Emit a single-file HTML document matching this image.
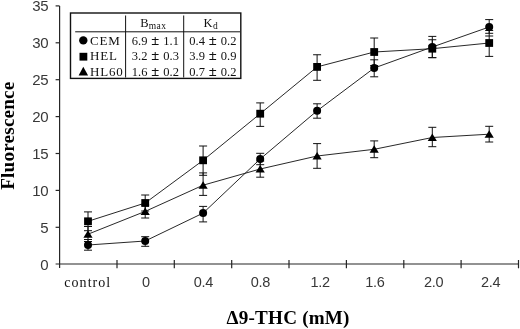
<!DOCTYPE html>
<html><head><meta charset="utf-8"><title>Fluorescence vs Δ9-THC</title>
<style>html,body{margin:0;padding:0;background:#fff}svg{display:block}</style>
</head><body>
<svg width="520" height="329" viewBox="0 0 520 329">
<rect width="520" height="329" fill="#fff"/>
<g stroke="#262626" stroke-width="1.2" fill="none">
<path d="M59.6 6 V268"/>
<path d="M55.6 264 H519"/>
<path d="M55.6 227.3 H59.6"/>
<path d="M55.6 190.4 H59.6"/>
<path d="M55.6 153.5 H59.6"/>
<path d="M55.6 116.6 H59.6"/>
<path d="M55.6 79.7 H59.6"/>
<path d="M55.6 42.8 H59.6"/>
<path d="M55.6 5.9 H59.6"/>
<path d="M117.0 260 V268.3"/>
<path d="M174.3 260 V268.3"/>
<path d="M231.7 260 V268.3"/>
<path d="M289.0 260 V268.3"/>
<path d="M346.4 260 V268.3"/>
<path d="M403.8 260 V268.3"/>
<path d="M461.1 260 V268.3"/>
<path d="M518.5 260 V268.3"/>
</g>
<g font-family="'Liberation Sans', sans-serif" font-size="15" letter-spacing="-0.4" fill="#383838" text-anchor="end">
<text x="48.2" y="269.7">0</text>
<text x="48.2" y="232.8">5</text>
<text x="48.2" y="195.9">10</text>
<text x="48.2" y="159.0">15</text>
<text x="48.2" y="122.1">20</text>
<text x="48.2" y="85.2">25</text>
<text x="48.2" y="48.3">30</text>
<text x="48.2" y="11.4">35</text>
</g>
<g font-family="'Liberation Sans', sans-serif" font-size="14.5" letter-spacing="-0.3" fill="#383838" text-anchor="middle">
<text x="146" y="286.8">0</text>
<text x="203.4" y="286.8">0.4</text>
<text x="260.3" y="286.8">0.8</text>
<text x="320.2" y="286.8">1.2</text>
<text x="374.9" y="286.8">1.6</text>
<text x="433.7" y="286.8">2.0</text>
<text x="490.6" y="286.8">2.4</text>
</g>
<text x="64.3" y="286.6" font-family="'Liberation Serif', serif" font-size="14" letter-spacing="1.05" fill="#111">control</text>
<polyline points="88,221.3 145.2,203 203.1,160.3 260.2,113.7 317.1,66.9 374.2,52 432.3,48.7 489.2,43" fill="none" stroke="#1c1c1c" stroke-width="0.95"/>
<path d="M88 211.9 V230.7 M84 211.9 H92 M84 230.7 H92" stroke="#111" stroke-width="1.0" fill="none"/>
<path d="M145.2 195 V211 M141.2 195 H149.2 M141.2 211 H149.2" stroke="#111" stroke-width="1.0" fill="none"/>
<path d="M203.1 146 V175.3 M199.1 146 H207.1 M199.1 175.3 H207.1" stroke="#111" stroke-width="1.0" fill="none"/>
<path d="M260.2 102.9 V126.4 M256.2 102.9 H264.2 M256.2 126.4 H264.2" stroke="#111" stroke-width="1.0" fill="none"/>
<path d="M317.1 54.75 V80.3 M313.1 54.75 H321.1 M313.1 80.3 H321.1" stroke="#111" stroke-width="1.0" fill="none"/>
<path d="M374.2 38 V65.5 M370.2 38 H378.2 M370.2 65.5 H378.2" stroke="#111" stroke-width="1.0" fill="none"/>
<path d="M432.3 39.75 V57.7 M428.3 39.75 H436.3 M428.3 57.7 H436.3" stroke="#111" stroke-width="1.0" fill="none"/>
<path d="M489.2 30.5 V56.4 M485.2 30.5 H493.2 M485.2 56.4 H493.2" stroke="#111" stroke-width="1.0" fill="none"/>
<polyline points="88,245 145.2,241 203.1,213.1 260.2,159 317.1,110.8 374.2,68 432.3,47 489.2,27" fill="none" stroke="#1c1c1c" stroke-width="0.95"/>
<path d="M88 239.5 V250.2 M84 239.5 H92 M84 250.2 H92" stroke="#111" stroke-width="1.0" fill="none"/>
<path d="M145.2 236.7 V246.3 M141.2 236.7 H149.2 M141.2 246.3 H149.2" stroke="#111" stroke-width="1.0" fill="none"/>
<path d="M203.1 206.4 V221.9 M199.1 206.4 H207.1 M199.1 221.9 H207.1" stroke="#111" stroke-width="1.0" fill="none"/>
<path d="M260.2 153.3 V164.7 M256.2 153.3 H264.2 M256.2 164.7 H264.2" stroke="#111" stroke-width="1.0" fill="none"/>
<path d="M317.1 103.8 V118.2 M313.1 103.8 H321.1 M313.1 118.2 H321.1" stroke="#111" stroke-width="1.0" fill="none"/>
<path d="M374.2 59.8 V76.8 M370.2 59.8 H378.2 M370.2 76.8 H378.2" stroke="#111" stroke-width="1.0" fill="none"/>
<path d="M432.3 36.4 V57.6 M428.3 36.4 H436.3 M428.3 57.6 H436.3" stroke="#111" stroke-width="1.0" fill="none"/>
<path d="M489.2 19.6 V33.3 M485.2 19.6 H493.2 M485.2 33.3 H493.2" stroke="#111" stroke-width="1.0" fill="none"/>
<polyline points="88,234.2 145.2,211.4 203.1,185.2 260.2,169 317.1,156 374.2,149.3 432.3,137.5 489.2,134.2" fill="none" stroke="#1c1c1c" stroke-width="0.95"/>
<path d="M88 226.5 V241.5 M84 226.5 H92 M84 241.5 H92" stroke="#111" stroke-width="1.0" fill="none"/>
<path d="M145.2 205 V218 M141.2 205 H149.2 M141.2 218 H149.2" stroke="#111" stroke-width="1.0" fill="none"/>
<path d="M203.1 172.9 V195.4 M199.1 172.9 H207.1 M199.1 195.4 H207.1" stroke="#111" stroke-width="1.0" fill="none"/>
<path d="M260.2 161 V177.2 M256.2 161 H264.2 M256.2 177.2 H264.2" stroke="#111" stroke-width="1.0" fill="none"/>
<path d="M317.1 143.6 V168.3 M313.1 143.6 H321.1 M313.1 168.3 H321.1" stroke="#111" stroke-width="1.0" fill="none"/>
<path d="M374.2 140.9 V157.7 M370.2 140.9 H378.2 M370.2 157.7 H378.2" stroke="#111" stroke-width="1.0" fill="none"/>
<path d="M432.3 127.3 V146.7 M428.3 127.3 H436.3 M428.3 146.7 H436.3" stroke="#111" stroke-width="1.0" fill="none"/>
<path d="M489.2 126.3 V142 M485.2 126.3 H493.2 M485.2 142 H493.2" stroke="#111" stroke-width="1.0" fill="none"/>
<path d="M485.2 36 H493.2" stroke="#111" stroke-width="1.0"/>
<rect x="84.1" y="217.4" width="7.8" height="7.8" fill="#000"/>
<rect x="141.3" y="199.1" width="7.8" height="7.8" fill="#000"/>
<rect x="199.2" y="156.4" width="7.8" height="7.8" fill="#000"/>
<rect x="256.3" y="109.8" width="7.8" height="7.8" fill="#000"/>
<rect x="313.2" y="63.0" width="7.8" height="7.8" fill="#000"/>
<rect x="370.3" y="48.1" width="7.8" height="7.8" fill="#000"/>
<rect x="428.4" y="44.8" width="7.8" height="7.8" fill="#000"/>
<rect x="485.3" y="39.1" width="7.8" height="7.8" fill="#000"/>
<circle cx="88" cy="245" r="4" fill="#000"/>
<circle cx="145.2" cy="241" r="4" fill="#000"/>
<circle cx="203.1" cy="213.1" r="4" fill="#000"/>
<circle cx="260.2" cy="159" r="4" fill="#000"/>
<circle cx="317.1" cy="110.8" r="4" fill="#000"/>
<circle cx="374.2" cy="68" r="4" fill="#000"/>
<circle cx="432.3" cy="47" r="4" fill="#000"/>
<circle cx="489.2" cy="27" r="4" fill="#000"/>
<path d="M88 230.2 L92.6 237.7 H83.4 Z" fill="#000"/>
<path d="M145.2 207.4 L149.8 214.9 H140.6 Z" fill="#000"/>
<path d="M203.1 181.2 L207.7 188.7 H198.5 Z" fill="#000"/>
<path d="M260.2 165.0 L264.8 172.5 H255.6 Z" fill="#000"/>
<path d="M317.1 152.0 L321.7 159.5 H312.5 Z" fill="#000"/>
<path d="M374.2 145.3 L378.8 152.8 H369.6 Z" fill="#000"/>
<path d="M432.3 133.5 L436.9 141.0 H427.7 Z" fill="#000"/>
<path d="M489.2 130.2 L493.8 137.7 H484.6 Z" fill="#000"/>
<rect x="70.5" y="13" width="170.3" height="65.4" fill="#fff" stroke="#111" stroke-width="1.4"/>
<g stroke="#111" stroke-width="1.0">
<path d="M75.2 31.8 H240"/>
<path d="M125.6 15.5 V77.5"/>
<path d="M183.7 15.5 V77.5"/>
</g>
<circle cx="83.3" cy="40.4" r="4.2" fill="#000"/>
<rect x="79.5" y="52.8" width="7.8" height="7.8" fill="#000"/>
<path d="M83.3 66.8 L88.1 75.6 H78.6 Z" fill="#000"/>
<g font-family="'Liberation Serif', serif" font-size="13" fill="#111" letter-spacing="0.8">
<text x="90" y="44.7">CEM</text>
<text x="90" y="60.4">HEL</text>
<text x="90" y="75.6">HL60</text>
</g>
<g font-family="'Liberation Serif', serif" font-size="12.5" fill="#111">
<text x="131.8" y="44.7" word-spacing="0.8">6.9 <tspan font-size="14.5" font-weight="bold">±</tspan> 1.1</text>
<text x="131.8" y="60.4" word-spacing="0.8">3.2 <tspan font-size="14.5" font-weight="bold">±</tspan> 0.3</text>
<text x="131.8" y="75.6" word-spacing="0.8">1.6 <tspan font-size="14.5" font-weight="bold">±</tspan> 0.2</text>
<text x="189.3" y="44.7" word-spacing="0.8">0.4 <tspan font-size="14.5" font-weight="bold">±</tspan> 0.2</text>
<text x="189.3" y="60.4" word-spacing="0.8">3.9 <tspan font-size="14.5" font-weight="bold">±</tspan> 0.9</text>
<text x="189.3" y="75.6" word-spacing="0.8">0.7 <tspan font-size="14.5" font-weight="bold">±</tspan> 0.2</text>
<text x="140.3" y="27.4">B<tspan font-size="9.5" dy="1.2" letter-spacing="0.5">max</tspan></text>
<text x="203.4" y="27.4">K<tspan font-size="9.5" dy="1.6" dx="0.6">d</tspan></text>
</g>
<text transform="translate(14.2 189.8) rotate(-90) scale(1.08 1)" font-family="'Liberation Serif', serif" font-weight="bold" font-size="17.8" letter-spacing="0.15" fill="#000">Fluorescence</text>
<text transform="translate(226.6 323.7) scale(1.05 1)" font-family="'Liberation Serif', serif" font-weight="bold" font-size="18.2" letter-spacing="0.2" fill="#000">Δ9-THC (mM)</text>
</svg>
</body></html>
